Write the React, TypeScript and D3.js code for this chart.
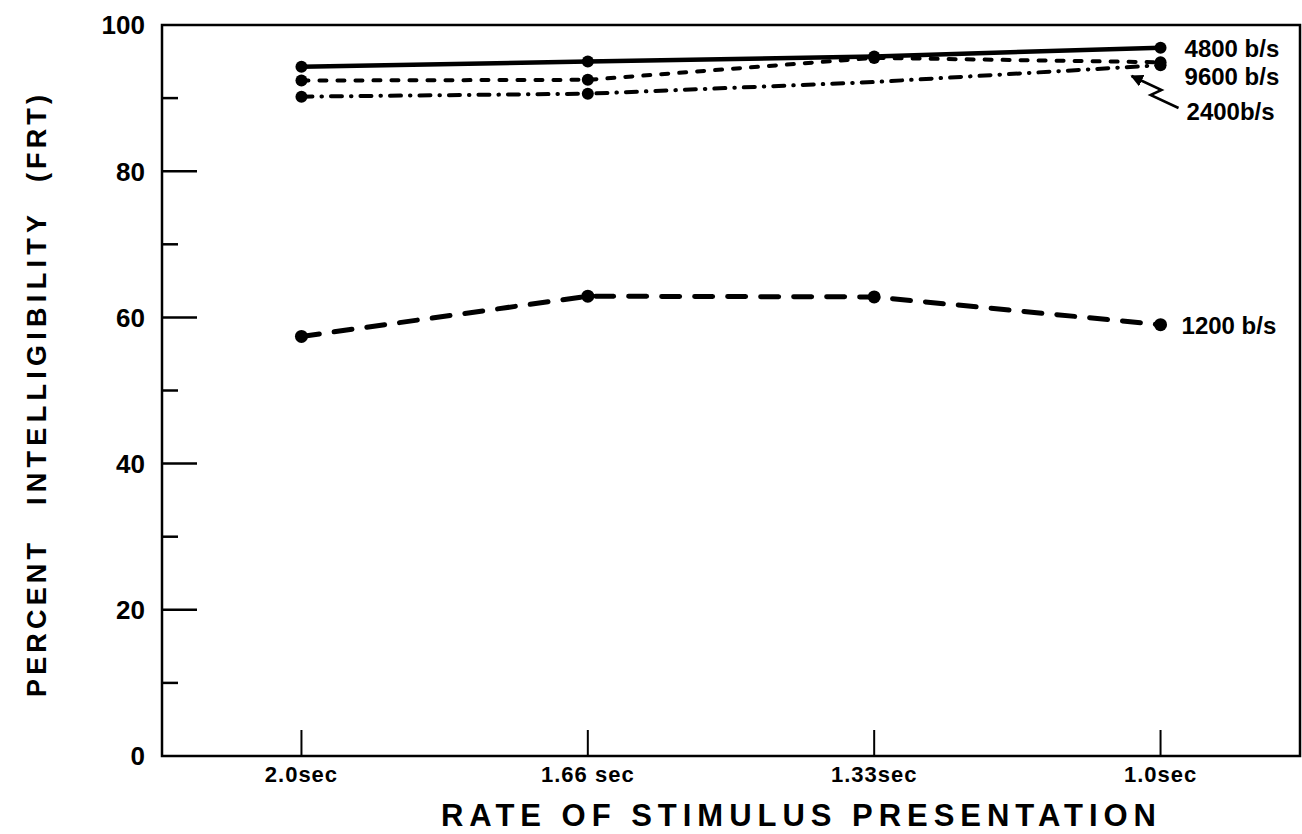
import React from "react";
import * as d3 from "d3";

const categories = ["2.0sec", "1.66 sec", "1.33sec", "1.0sec"];
const yTicksMajor = [0, 20, 40, 60, 80, 100];
const yTicksMinor = [10, 30, 50, 70, 90];

const v4800 = [94.3, 95.0, 95.7, 96.9];
const v9600 = [92.4, 92.5, 95.5, 94.9];
const v2400 = [90.2, 90.6, 92.2, 94.5];
const v1200 = [57.4, 62.9, 62.8, 59.0];

const m4800 = [true, true, true, true];
const m9600 = [true, true, true, true];
const m2400 = [true, true, false, true];
const m1200 = [true, true, true, true];

const labels = ["4800 b/s", "9600 b/s", "2400b/s", "1200 b/s"];

const W = 1302;
const H = 834;
const frame = { left: 162, top: 25, right: 1300, bottom: 756 };
const FONT = "'Liberation Sans', Arial, Helvetica, sans-serif";

export default function App() {
  const x = d3.scalePoint<string>().domain(categories).range([frame.left, frame.right]).padding(0.487);
  const y = d3.scaleLinear().domain([0, 100]).range([frame.bottom, frame.top]);

  const series = [
    { values: v4800, marks: m4800, dash: "none", width: 4.5, r: 6 },
    { values: v9600, marks: m9600, dash: "7 11", width: 4, r: 6 },
    { values: v2400, marks: m2400, dash: "11 9 0.5 9", width: 4, r: 6 },
    { values: v1200, marks: m1200, dash: "18 15", width: 5, r: 6.5 },
  ];

  const line = d3
    .line<number>()
    .x((_, i) => x(categories[i]) as number)
    .y((d) => y(d));

  const lastX = x(categories[categories.length - 1]) as number;
  const labelPos = [
    { dx: 24, yy: 57 },
    { dx: 24, yy: 85 },
    { dx: 26, yy: 120 },
    { dx: 21, yy: 334 },
  ];

  return (
    <svg width={W} height={H} style={{ position: "absolute", left: 0, top: 0, background: "#fff" }}>
      <defs>
        <marker id="ah" viewBox="0 0 10 10" refX="9" refY="5" markerWidth="5" markerHeight="5" orient="auto">
          <path d="M0,0 L10,5 L0,10 z" fill="#000" />
        </marker>
      </defs>
      {/* frame */}
      <path
        d={`M${frame.left},${frame.bottom} L${frame.left},${frame.top} L${frame.right},${frame.top} L${frame.right},${frame.bottom} Z`}
        fill="none"
        stroke="#000"
        strokeWidth={2.5}
      />
      {/* y ticks */}
      {yTicksMajor.map((t) => (
        <g key={"M" + t}>
          {t > 0 && t < 100 && (
            <line x1={frame.left} x2={frame.left + 35} y1={y(t)} y2={y(t)} stroke="#000" strokeWidth={2.5} />
          )}
          <text
            x={145}
            y={y(t)}
            dy="0.36em"
            textAnchor="end"
            fontFamily={FONT}
            fontWeight="bold"
            fontSize={26}
          >
            {t}
          </text>
        </g>
      ))}
      {yTicksMinor.map((t) => (
        <line key={"m" + t} x1={frame.left} x2={frame.left + 16} y1={y(t)} y2={y(t)} stroke="#000" strokeWidth={2.5} />
      ))}
      {/* x ticks */}
      {categories.map((c) => (
        <g key={c}>
          <line x1={x(c)} x2={x(c)} y1={frame.bottom} y2={frame.bottom - 26} stroke="#000" strokeWidth={2} />
          <text
            x={x(c)}
            y={782}
            textAnchor="middle"
            fontFamily={FONT}
            fontWeight="bold"
            fontSize={22}
            letterSpacing={1}
          >
            {c}
          </text>
        </g>
      ))}
      {/* axis titles */}
      <text x={441} y={826} fontFamily={FONT} fontWeight="bold" fontSize={31} textLength={715} lengthAdjust="spacing">
        RATE OF STIMULUS PRESENTATION
      </text>
      <g transform="translate(36,0)">
        <text transform="rotate(-90)" x={-697} y={10} fontFamily={FONT} fontWeight="bold" fontSize={27} textLength={154} lengthAdjust="spacing">
          PERCENT
        </text>
        <text transform="rotate(-90)" x={-505} y={10} fontFamily={FONT} fontWeight="bold" fontSize={27} textLength={290} lengthAdjust="spacing">
          INTELLIGIBILITY
        </text>
        <text transform="rotate(-90)" x={-182} y={10} fontFamily={FONT} fontWeight="bold" fontSize={27} textLength={87} lengthAdjust="spacing">
          (FRT)
        </text>
      </g>
      {/* series */}
      {series.map((s, si) => (
        <g key={si}>
          <path
            d={line(s.values) || ""}
            fill="none"
            stroke="#000"
            strokeWidth={s.width}
            strokeDasharray={s.dash}
            strokeLinecap="round"
          />
          {s.values.map((v, i) =>
            s.marks[i] ? <circle key={i} cx={x(categories[i])} cy={y(v)} r={s.r} fill="#000" /> : null
          )}
          <text
            x={lastX + labelPos[si].dx}
            y={labelPos[si].yy}
            fontFamily={FONT}
            fontWeight="bold"
            fontSize={24}
          >
            {labels[si]}
          </text>
        </g>
      ))}
      {/* arrow from 2400 label */}
      <path
        d={`M${lastX + 18},${108} L${lastX - 10},${95} L${lastX + 1},${90} L${lastX - 29},${76}`}
        fill="none"
        stroke="#000"
        strokeWidth={2.5}
        markerEnd="url(#ah)"
      />
    </svg>
  );
}
